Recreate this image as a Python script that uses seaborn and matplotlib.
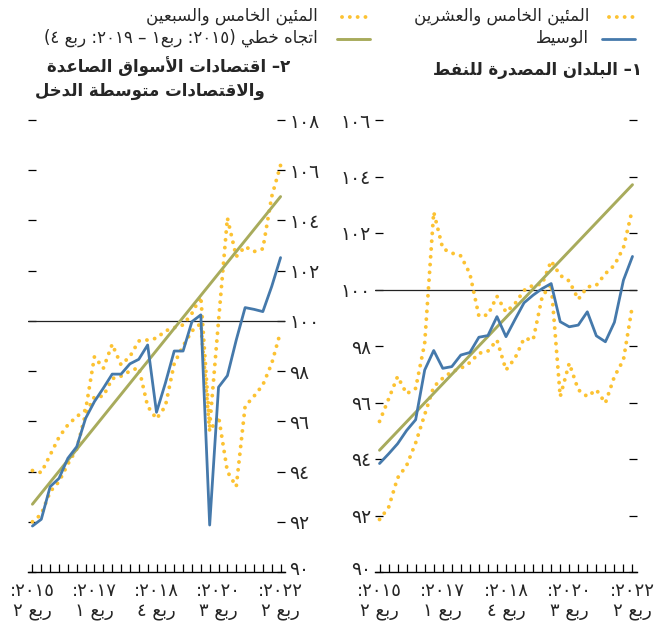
import re

import matplotlib.pyplot as plt
import matplotlib.transforms as mtransforms
import pandas as pd
import seaborn as sns
from matplotlib.lines import Line2D

# quarters 2015:Q2 .. 2022:Q2
quarters = list(range(29))
tick_pos = [0, 7, 14, 21, 28]
tick_years = ["٢٠١٥:", "٢٠١٧:", "٢٠١٨:", "٢٠٢٠:", "٢٠٢٢:"]
tick_quarters = ["ربع ٢", "ربع ١", "ربع ٤", "ربع ٣", "ربع ٢"]

# panel 1: oil exporters
oil_median = [93.84, 94.18, 94.54, 95.01, 95.39, 97.15, 97.84, 97.21, 97.27, 97.68,
              97.77, 98.31, 98.37, 99.04, 98.33, 98.94, 99.53, 99.80, 100.03, 100.21,
              98.86, 98.68, 98.74, 99.21, 98.36, 98.15, 98.84, 100.33, 101.17]
oil_p25 = [91.86, 92.28, 93.33, 93.77, 94.57, 95.57, 96.56, 96.86, 97.09, 97.21,
           97.41, 97.74, 97.82, 98.21, 97.15, 97.57, 98.27, 98.21, 99.74, 100.20,
           96.21, 97.39, 96.45, 96.21, 96.45, 95.98, 96.92, 97.51, 99.45]
oil_p75 = [95.33, 96.12, 96.92, 96.31, 96.50, 98.10, 102.74, 101.45, 101.29, 101.19,
           100.56, 99.06, 99.10, 99.76, 99.20, 99.50, 99.97, 100.15, 100.19, 101.01,
           100.50, 100.30, 99.65, 100.09, 100.15, 100.56, 100.86, 101.48, 102.86]
oil_trend = [94.31, 103.71]

# panel 2: emerging market and middle-income economies
em_median = [91.83, 92.10, 93.40, 93.73, 94.53, 94.99, 96.12, 96.79, 97.32, 97.88,
             97.88, 98.29, 98.47, 99.04, 96.36, 97.52, 98.80, 98.80, 99.97, 100.24,
             91.87, 97.36, 97.82, 99.24, 100.53, 100.46, 100.37, 101.37, 102.52]
em_p25 = [92.00, 92.30, 93.20, 93.60, 94.30, 94.90, 96.30, 96.98, 97.00, 97.70,
          97.80, 98.00, 98.14, 96.60, 96.10, 96.60, 98.30, 99.00, 99.60, 99.90,
          95.60, 96.20, 94.00, 93.40, 96.60, 97.00, 97.45, 98.30, 99.57]
em_p75 = [94.04, 93.96, 94.66, 95.37, 95.86, 96.19, 96.45, 98.58, 98.11, 99.07,
          98.25, 98.58, 99.20, 99.24, 99.31, 99.60, 99.73, 99.84, 100.30, 100.97,
          95.80, 100.00, 104.10, 102.56, 102.96, 102.76, 102.87, 104.95, 106.20]
em_trend = [92.70, 104.95]
trend_q = [0, 28]

BLUE = "#4579ab"
OLIVE = "#a8ab5c"
GOLD = "#fcc232"

# Arabic letters -> first presentation form, number of forms
AR = {
    "ء": (0xFE80, 1), "آ": (0xFE81, 2), "أ": (0xFE83, 2), "ؤ": (0xFE85, 2),
    "إ": (0xFE87, 2), "ئ": (0xFE89, 4), "ا": (0xFE8D, 2), "ب": (0xFE8F, 4),
    "ة": (0xFE93, 2), "ت": (0xFE95, 4), "ث": (0xFE99, 4), "ج": (0xFE9D, 4),
    "ح": (0xFEA1, 4), "خ": (0xFEA5, 4), "د": (0xFEA9, 2), "ذ": (0xFEAB, 2),
    "ر": (0xFEAD, 2), "ز": (0xFEAF, 2), "س": (0xFEB1, 4), "ش": (0xFEB5, 4),
    "ص": (0xFEB9, 4), "ض": (0xFEBD, 4), "ط": (0xFEC1, 4), "ظ": (0xFEC5, 4),
    "ع": (0xFEC9, 4), "غ": (0xFECD, 4), "ف": (0xFED1, 4), "ق": (0xFED5, 4),
    "ك": (0xFED9, 4), "ل": (0xFEDD, 4), "م": (0xFEE1, 4), "ن": (0xFEE5, 4),
    "ه": (0xFEE9, 4), "و": (0xFEED, 2), "ى": (0xFEEF, 2), "ي": (0xFEF1, 4),
}
LAM_ALEF = {"آ": 0xFEF5, "أ": 0xFEF7, "إ": 0xFEF9, "ا": 0xFEFB}


def shape(text):
    # matplotlib does no Arabic shaping: pick joined forms and lay out right to left
    items = []
    i = 0
    while i < len(text):
        if text[i] == "ل" and i + 1 < len(text) and text[i + 1] in LAM_ALEF:
            items.append(("la", text[i + 1]))
            i += 2
        else:
            items.append(("c", text[i]))
            i += 1

    def is_letter(it):
        return it[0] == "la" or it[1] in AR

    def joins_next(it):
        return it[0] == "c" and it[1] in AR and AR[it[1]][1] == 4

    out = []
    for k, it in enumerate(items):
        prev = items[k - 1] if k > 0 else None
        nxt = items[k + 1] if k + 1 < len(items) else None
        jp = prev is not None and joins_next(prev) and is_letter(it)
        if it[0] == "la":
            out.append(chr(LAM_ALEF[it[1]] + (1 if jp else 0)))
            continue
        c = it[1]
        if c not in AR:
            out.append(c)
            continue
        base, n = AR[c]
        jn = n == 4 and nxt is not None and is_letter(nxt)
        if n == 1:
            form = 0
        elif jp and jn:
            form = 3
        elif jp:
            form = 1
        elif jn:
            form = 2
        else:
            form = 0
        out.append(chr(base + form))
    runs = re.findall(r"[0-9\u0660-\u0669]+|[^0-9\u0660-\u0669]", "".join(out))
    mirror = {"(": ")", ")": "("}
    return "".join(mirror.get(r, r) for r in reversed(runs))


def ar_num(v):
    return str(v).translate(str.maketrans("0123456789", "٠١٢٣٤٥٦٧٨٩"))


sns.set_theme(style="white")
plt.rcParams["font.family"] = ["DejaVu Sans"]

W, H = 664, 631
fig = plt.figure(figsize=(W / 100, H / 100), dpi=100)
ax_em = fig.add_axes([28 / W, (H - 572) / H, 257 / W, 452 / H])
ax_oil = fig.add_axes([375 / W, (H - 572) / H, 262 / W, 452 / H])

dot_style = dict(color=GOLD, lw=2.8, linestyle=(0, (0.01, 2.0)), dash_capstyle="round")

panels = [
    (ax_em, em_median, em_p25, em_p75, em_trend, 108, "right"),
    (ax_oil, oil_median, oil_p25, oil_p75, oil_trend, 106, "left"),
]
for ax, med, p25, p75, trend, ytop, side in panels:
    df = pd.DataFrame({"q": quarters, "median": med, "p25": p25, "p75": p75})
    ax.axhline(100, color="#222222", lw=0.9, zorder=1)
    sns.lineplot(data=df, x="q", y="p25", ax=ax, zorder=2, **dot_style)
    sns.lineplot(data=df, x="q", y="p75", ax=ax, zorder=2, **dot_style)
    sns.lineplot(x=trend_q, y=trend, ax=ax, color=OLIVE, lw=2.1, zorder=3)
    sns.lineplot(data=df, x="q", y="median", ax=ax, color=BLUE, lw=2.0, zorder=4)

    ax.set_xlim(-0.5, 28.5)
    ax.set_ylim(90, ytop)
    ax.set_xlabel("")
    ax.set_ylabel("")
    for s in ["top", "left", "right"]:
        ax.spines[s].set_visible(False)
    ax.spines["bottom"].set_color("black")
    ax.spines["bottom"].set_linewidth(1.0)

    ax.set_xticks(quarters, minor=True)
    ax.set_xticks(tick_pos)
    ax.set_xticklabels([shape(y) + "\n" + shape(q) for y, q in zip(tick_years, tick_quarters)],
                       fontsize=13, linespacing=1.2)
    ax.tick_params(axis="x", which="both", direction="in", length=6, width=0.9,
                   color="black", bottom=True, pad=7)

    yt = list(range(90, ytop + 1, 2))
    ax.set_yticks(yt)
    ax.set_yticklabels([ar_num(v) for v in yt], fontsize=13.5)
    ax.tick_params(axis="y", direction="in", length=6, width=0.9, color="black",
                   left=True, right=True, labelleft=(side == "left"),
                   labelright=(side == "right"), pad=3)

fig.canvas.draw()
# lift the "90" labels a touch so they clear the date labels below
lift = mtransforms.ScaledTranslation(0, 3 / 72, fig.dpi_scale_trans)
for ax in (ax_em, ax_oil):
    for lab in ax.get_yticklabels():
        if lab.get_text() == ar_num(90):
            lab.set_transform(lab.get_transform() + lift)

# titles
fig.text(642 / W, 1 - 70 / H, shape("١– البلدان المصدرة للنفط"), ha="right", va="center",
         fontsize=12, fontweight="bold")
fig.text(290 / W, 1 - 67 / H, shape("٢– اقتصادات الأسواق الصاعدة"), ha="right", va="center",
         fontsize=12, fontweight="bold")
fig.text(265 / W, 1 - 91 / H, shape("والاقتصادات متوسطة الدخل"), ha="right", va="center",
         fontsize=12, fontweight="bold")

# legend, drawn right to left
legend_items = [
    (589, 16, "المئين الخامس والعشرين", (609, 635), dot_style),
    (589, 38, "الوسيط", (602, 635), dict(color=BLUE, lw=2.0)),
    (318, 16, "المئين الخامس والسبعين", (342, 370), dot_style),
    (318, 38, "اتجاه خطي (٢٠١٥: ربع١ – ٢٠١٩: ربع ٤)", (337, 370), dict(color=OLIVE, lw=2.1)),
]
for tx, ty, label, (x0, x1), style in legend_items:
    fig.text(tx / W, 1 - ty / H, shape(label), ha="right", va="center", fontsize=12)
    fig.add_artist(Line2D([x0 / W, x1 / W], [1 - (ty + 1) / H] * 2,
                          transform=fig.transFigure, **style))

fig.savefig("out.png", dpi=100)
